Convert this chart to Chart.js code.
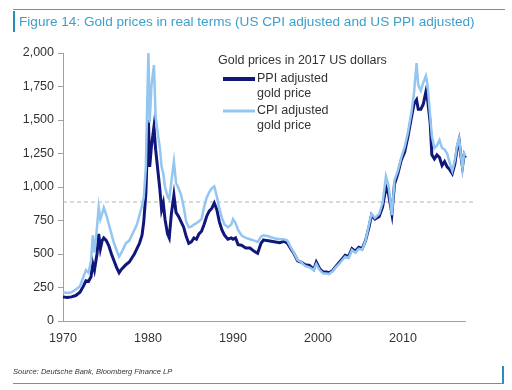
<!DOCTYPE html>
<html>
<head>
<meta charset="utf-8">
<script src="https://cdn.jsdelivr.net/npm/chart.js@4.4.1/dist/chart.umd.min.js"></script>
<style>
  body { margin: 0; background: #fff; font-family: "Liberation Sans", Arial, sans-serif; }
  #wrap { position: relative; width: 512px; height: 390px; overflow: hidden; }
  #chart { position: absolute; left: 0; top: 0; }
  .title { position: absolute; left: 13px; top: 9px; width: 492px; height: 22px;
           border-top: 1px solid #3aa6c8; }
  .title span { position: absolute; left: 0; top: 1px; height: 21px; border-left: 2px solid #2a8fb8;
                padding-left: 4px; font-size: 13.6px; line-height: 21px; color: #3ba0cc; white-space: nowrap; }
  .source { position: absolute; left: 13px; top: 366px; width: 489px; height: 17px;
            border-bottom: 1px solid #3aa6c8; border-right: 2px solid #2a8fb8;
            font-size: 7.5px; font-style: italic; color: #333; line-height: 12px; }
</style>
</head>
<body>
<div id="wrap">
  <canvas id="chart" width="512" height="390"></canvas>
  <div class="title"><span>Figure 14: Gold prices in real terms (US CPI adjusted and US PPI adjusted)</span></div>
  <div class="source">Source: Deutsche Bank, Bloomberg Finance LP</div>
</div>
<script>
// Gold prices in 2017 US dollars
var years = [
  1970.0, 1970.5, 1971.0, 1971.5, 1972.0, 1972.4, 1972.7, 1973.0, 1973.3, 1973.5,
  1973.7, 1974.0, 1974.2, 1974.4, 1974.6, 1974.8, 1975.1, 1975.4, 1975.7, 1976.0,
  1976.3, 1976.6, 1976.8, 1977.1, 1977.4, 1977.8, 1978.1, 1978.4, 1978.7, 1979.0,
  1979.3, 1979.5, 1979.75, 1979.9, 1980.05, 1980.2, 1980.4, 1980.7, 1980.9, 1981.2,
  1981.4, 1981.6, 1981.8, 1982.0, 1982.3, 1982.5, 1982.75, 1983.05, 1983.3, 1983.6,
  1983.9, 1984.2, 1984.5, 1984.8, 1985.1, 1985.4, 1985.7, 1986.0, 1986.3, 1986.6,
  1986.9, 1987.2, 1987.5, 1987.8, 1988.1, 1988.4, 1988.7, 1989.0, 1989.4, 1989.8,
  1990.0, 1990.3, 1990.6, 1991.0, 1991.5, 1992.0, 1992.5, 1992.9, 1993.3, 1993.6,
  1994.0, 1994.5, 1995.0, 1995.5, 1996.0, 1996.4, 1996.8, 1997.2, 1997.6, 1998.0,
  1998.5, 1999.0, 1999.5, 1999.8, 2000.2, 2000.6, 2001.0, 2001.3, 2001.7, 2002.0,
  2002.4, 2002.8, 2003.2, 2003.6, 2004.0, 2004.4, 2004.8, 2005.2, 2005.6, 2006.0,
  2006.3, 2006.7, 2007.2, 2007.6, 2008.0, 2008.3, 2008.7, 2009.0, 2009.4, 2009.8,
  2010.2, 2010.6, 2011.0, 2011.3, 2011.6, 2011.8, 2012.1, 2012.4, 2012.7, 2012.9,
  2013.2, 2013.4, 2013.7, 2014.0, 2014.3, 2014.6, 2014.9, 2015.2, 2015.5, 2015.8,
  2016.1, 2016.4, 2016.6, 2016.8, 2017.0, 2017.2, 2017.35
];
var ppiGold = [
  180, 175, 180, 190, 215, 260, 300, 295, 330, 430,
  380, 500, 650, 540, 600, 620, 600, 560, 500, 450,
  400, 360, 380, 400, 420, 440, 470, 500, 540, 580,
  640, 740, 950, 1250, 1500, 1150, 1300, 1450, 1280, 1100,
  980, 830, 880, 760, 650, 620, 800, 940, 810, 780,
  740, 700, 630, 580, 590, 620, 610, 650, 670, 720,
  780, 820, 840, 880, 830, 740, 680, 640, 610, 620,
  610, 620, 570, 565, 545, 545, 520, 505, 580, 605,
  600, 595, 590, 585, 595, 580, 540, 500, 450, 440,
  420, 415, 385, 440, 390, 365, 365, 360, 375, 400,
  430, 460, 490, 480, 540, 520, 550, 540, 600, 700,
  790, 760, 780, 850, 1000, 950, 800, 1020, 1100, 1200,
  1260, 1380, 1520, 1620, 1650, 1580, 1580, 1620, 1710, 1650,
  1480, 1240, 1210, 1240, 1220, 1160, 1190, 1150, 1130, 1100,
  1170, 1300, 1350, 1240, 1150, 1240, 1220
];
var cpiGold = [
  215, 210, 215, 235, 260, 330, 380, 360, 450, 640,
  510, 700, 850, 760, 800, 845, 790, 720, 650, 580,
  530, 480, 500, 540, 580, 600, 640, 680, 720, 790,
  860, 920, 1150, 1600, 2000, 1480, 1750, 1910, 1520, 1380,
  1290, 1150, 1100, 1000, 930, 910, 1040, 1190, 1030, 990,
  940, 850, 740, 700, 705, 720, 730, 745, 760, 850,
  920, 960, 990, 1005, 930, 840, 770, 720, 700, 720,
  760, 730, 680, 640, 620, 610, 600, 590, 630, 640,
  635, 625, 615, 610, 610, 600, 550, 505, 455, 440,
  410, 400, 380, 425, 380, 355, 355, 350, 370, 395,
  420, 450, 480, 470, 530, 510, 540, 530, 600, 720,
  800, 770, 800, 880, 1080, 1010, 790, 1050, 1120, 1220,
  1300, 1410, 1560, 1700, 1925, 1760, 1720, 1780, 1830, 1760,
  1530, 1380, 1290, 1310, 1350, 1290, 1280, 1250, 1180, 1120,
  1200, 1320, 1360, 1250, 1140, 1250, 1230
];
var referenceLevel = 888;
var xTicks = [1970, 1980, 1990, 2000, 2010];

var ppiColor = '#10167a';
var cpiColor = '#93c6f0';

function pts(ys) {
  return years.map(function (y, i) { return { x: y, y: ys[i] }; });
}

// legend drawn by hand, like the original
var legendPlugin = {
  id: 'handLegend',
  afterDraw: function (chart) {
    var c = chart.ctx;
    c.save();
    c.font = '12.5px "Liberation Sans", Arial, sans-serif';
    c.fillStyle = '#333';
    c.textBaseline = 'middle';
    c.fillText('Gold prices in 2017 US dollars', 218, 61);
    c.lineWidth = 4;
    c.strokeStyle = ppiColor;
    c.beginPath(); c.moveTo(223, 79); c.lineTo(255, 79); c.stroke();
    c.lineWidth = 3;
    c.strokeStyle = cpiColor;
    c.beginPath(); c.moveTo(223, 111); c.lineTo(255, 111); c.stroke();
    c.fillText('PPI adjusted', 257, 79);
    c.fillText('gold price', 257, 94);
    c.fillText('CPI adjusted', 257, 111);
    c.fillText('gold price', 257, 126);
    c.restore();
  }
};

Chart.defaults.font.family = '"Liberation Sans", Arial, sans-serif';
Chart.defaults.font.size = 12.5;
Chart.defaults.color = '#333';

new Chart(document.getElementById('chart'), {
  type: 'line',
  data: {
    datasets: [
      {
        label: 'CPI adjusted gold price',
        data: pts(cpiGold),
        borderColor: cpiColor,
        borderWidth: 2.5,
        pointRadius: 0,
        order: 1
      },
      {
        label: 'PPI adjusted gold price',
        data: pts(ppiGold),
        borderColor: ppiColor,
        borderWidth: 3,
        pointRadius: 0,
        order: 2
      },
      {
        label: 'level',
        data: [{ x: 1970, y: referenceLevel }, { x: 2018.5, y: referenceLevel }],
        borderColor: '#b5b5b5',
        borderWidth: 1,
        borderDash: [4, 3],
        pointRadius: 0,
        order: 3
      }
    ]
  },
  options: {
    responsive: false,
    animation: false,
    clip: false,
    layout: { padding: { top: 53, right: 47, left: 0, bottom: 0 } },
    plugins: { legend: { display: false }, tooltip: { enabled: false } },
    scales: {
      x: {
        type: 'linear',
        min: 1970,
        max: 2017.3,
        afterFit: function (s) { s.height = 69; },
        afterBuildTicks: function (s) { s.ticks = xTicks.map(function (v) { return { value: v }; }); },
        ticks: { callback: function (v) { return String(v); }, padding: 2, maxRotation: 0, color: '#333' },
        grid: { display: false },
        border: { color: '#a0a0a0' }
      },
      y: {
        min: 0,
        max: 2000,
        afterFit: function (s) { s.width = 63; },
        ticks: { stepSize: 250, padding: 4, color: '#333',
                 callback: function (v) { return v.toLocaleString('en-US'); } },
        grid: { drawOnChartArea: false, tickLength: 5, color: '#a0a0a0' },
        border: { color: '#a0a0a0' }
      }
    }
  },
  plugins: [legendPlugin]
});
</script>
</body>
</html>
